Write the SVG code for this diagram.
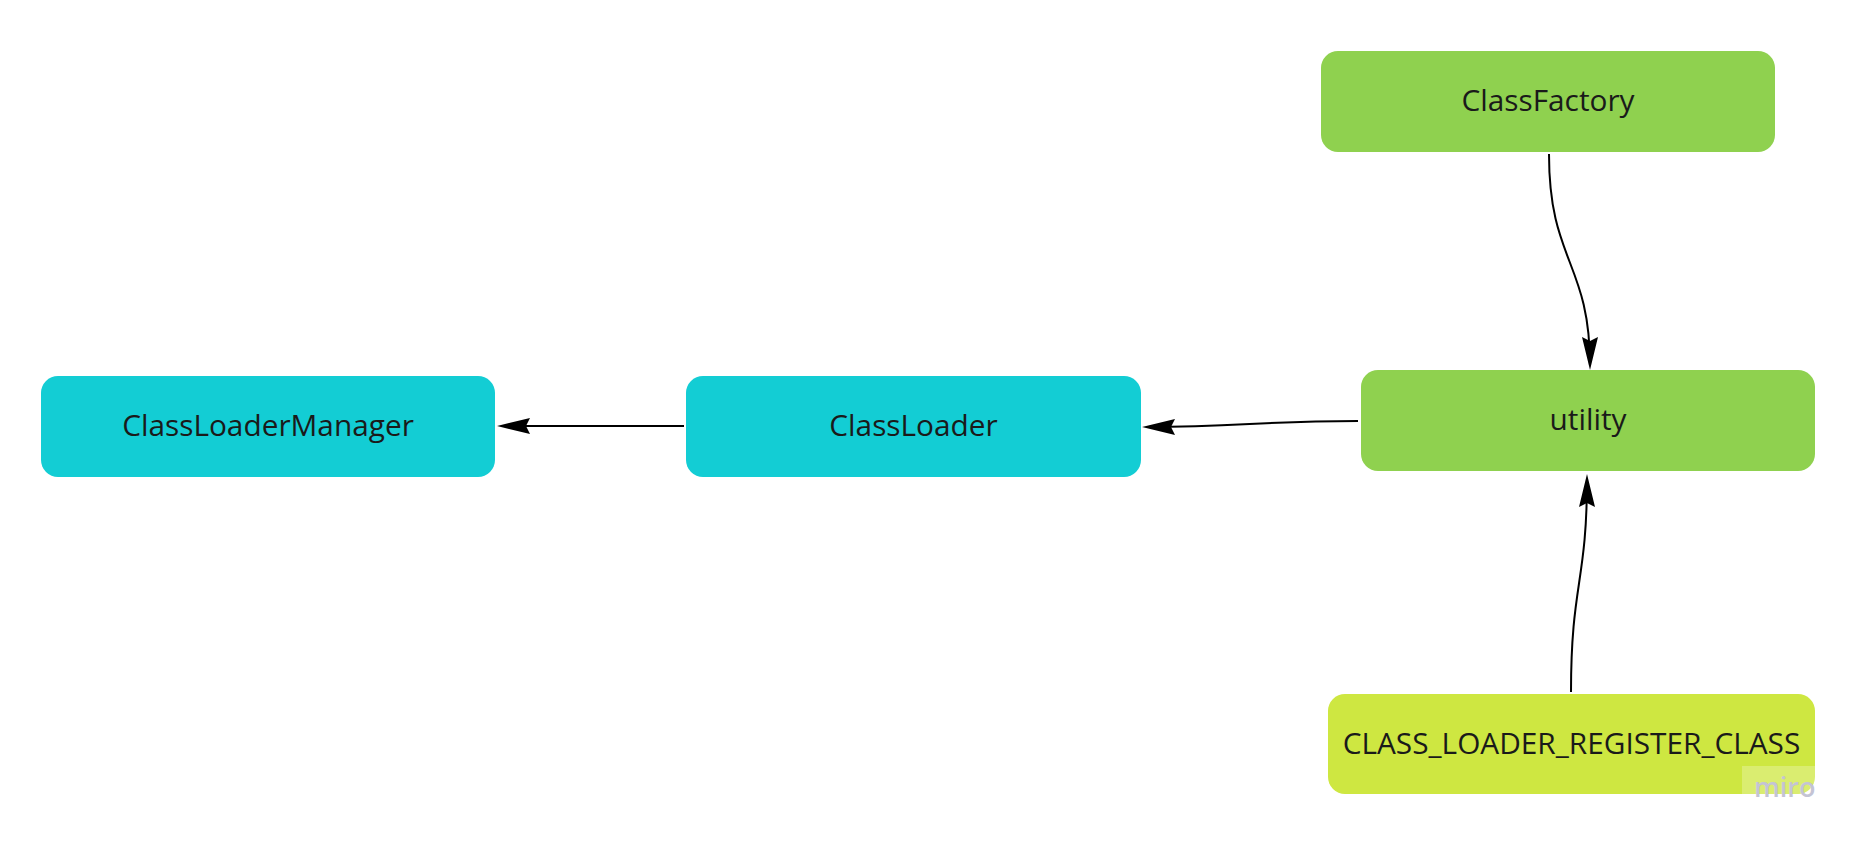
<svg xmlns="http://www.w3.org/2000/svg" width="1856" height="841" viewBox="0 0 1856 841">
<style>
.node text{font-family:"Open Sans","Liberation Sans",sans-serif;font-size:29.8px;fill:#1a1a1a;text-anchor:middle}
.cyan{fill:#13CDD4}
.green{fill:#8FD14F}
.lime{fill:#CEE741}
.conn path{fill:none;stroke:#000;stroke-width:2;marker-end:url(#arrow)}
</style>
<defs>
<marker id="arrow" viewBox="0 -10 34 20" refX="29" refY="0" markerWidth="34" markerHeight="20" markerUnits="userSpaceOnUse" orient="auto">
<path d="M33,0 L0,-8 L4,0 L0,8 Z" fill="#000"/>
</marker>
</defs>
<rect width="1856" height="841" fill="#fff"/>
<g id="ClassLoaderManager" class="node">
<rect class="cyan" x="41" y="376" width="454" height="101" rx="17"/>
<text x="268" y="436">ClassLoaderManager</text>
</g>
<g id="ClassLoader" class="node">
<rect class="cyan" x="686" y="376" width="455" height="101" rx="17"/>
<text x="913.5" y="436">ClassLoader</text>
</g>
<g id="utility" class="node">
<rect class="green" x="1361" y="370" width="454" height="101" rx="17"/>
<text x="1588" y="430">utility</text>
</g>
<g id="ClassFactory" class="node">
<rect class="green" x="1321" y="51" width="454" height="101" rx="17"/>
<text x="1548" y="111">ClassFactory</text>
</g>
<g id="CLASS_LOADER_REGISTER_CLASS" class="node">
<rect class="lime" x="1328" y="694" width="487" height="100" rx="17"/>
<text x="1571.5" y="754">CLASS_LOADER_REGISTER_CLASS</text>
</g>
<g id="connectors" class="conn">
<path d="M684,426 L501,426"/>
<path d="M1358,421 C1260,421 1240,427 1146,427"/>
<path d="M1549,154 C1549,262 1590,262 1590,366"/>
<path d="M1571,692 C1571,583 1587,583 1587,478"/>
</g>
<g id="watermark">
<rect x="1742" y="766" width="73" height="28" fill="#fff" fill-opacity="0.25"/>
<text x="1754" y="797" font-family="'Open Sans','Liberation Sans',sans-serif" font-size="27" font-weight="600" fill="#c4c4d4">miro</text>
</g>
</svg>
